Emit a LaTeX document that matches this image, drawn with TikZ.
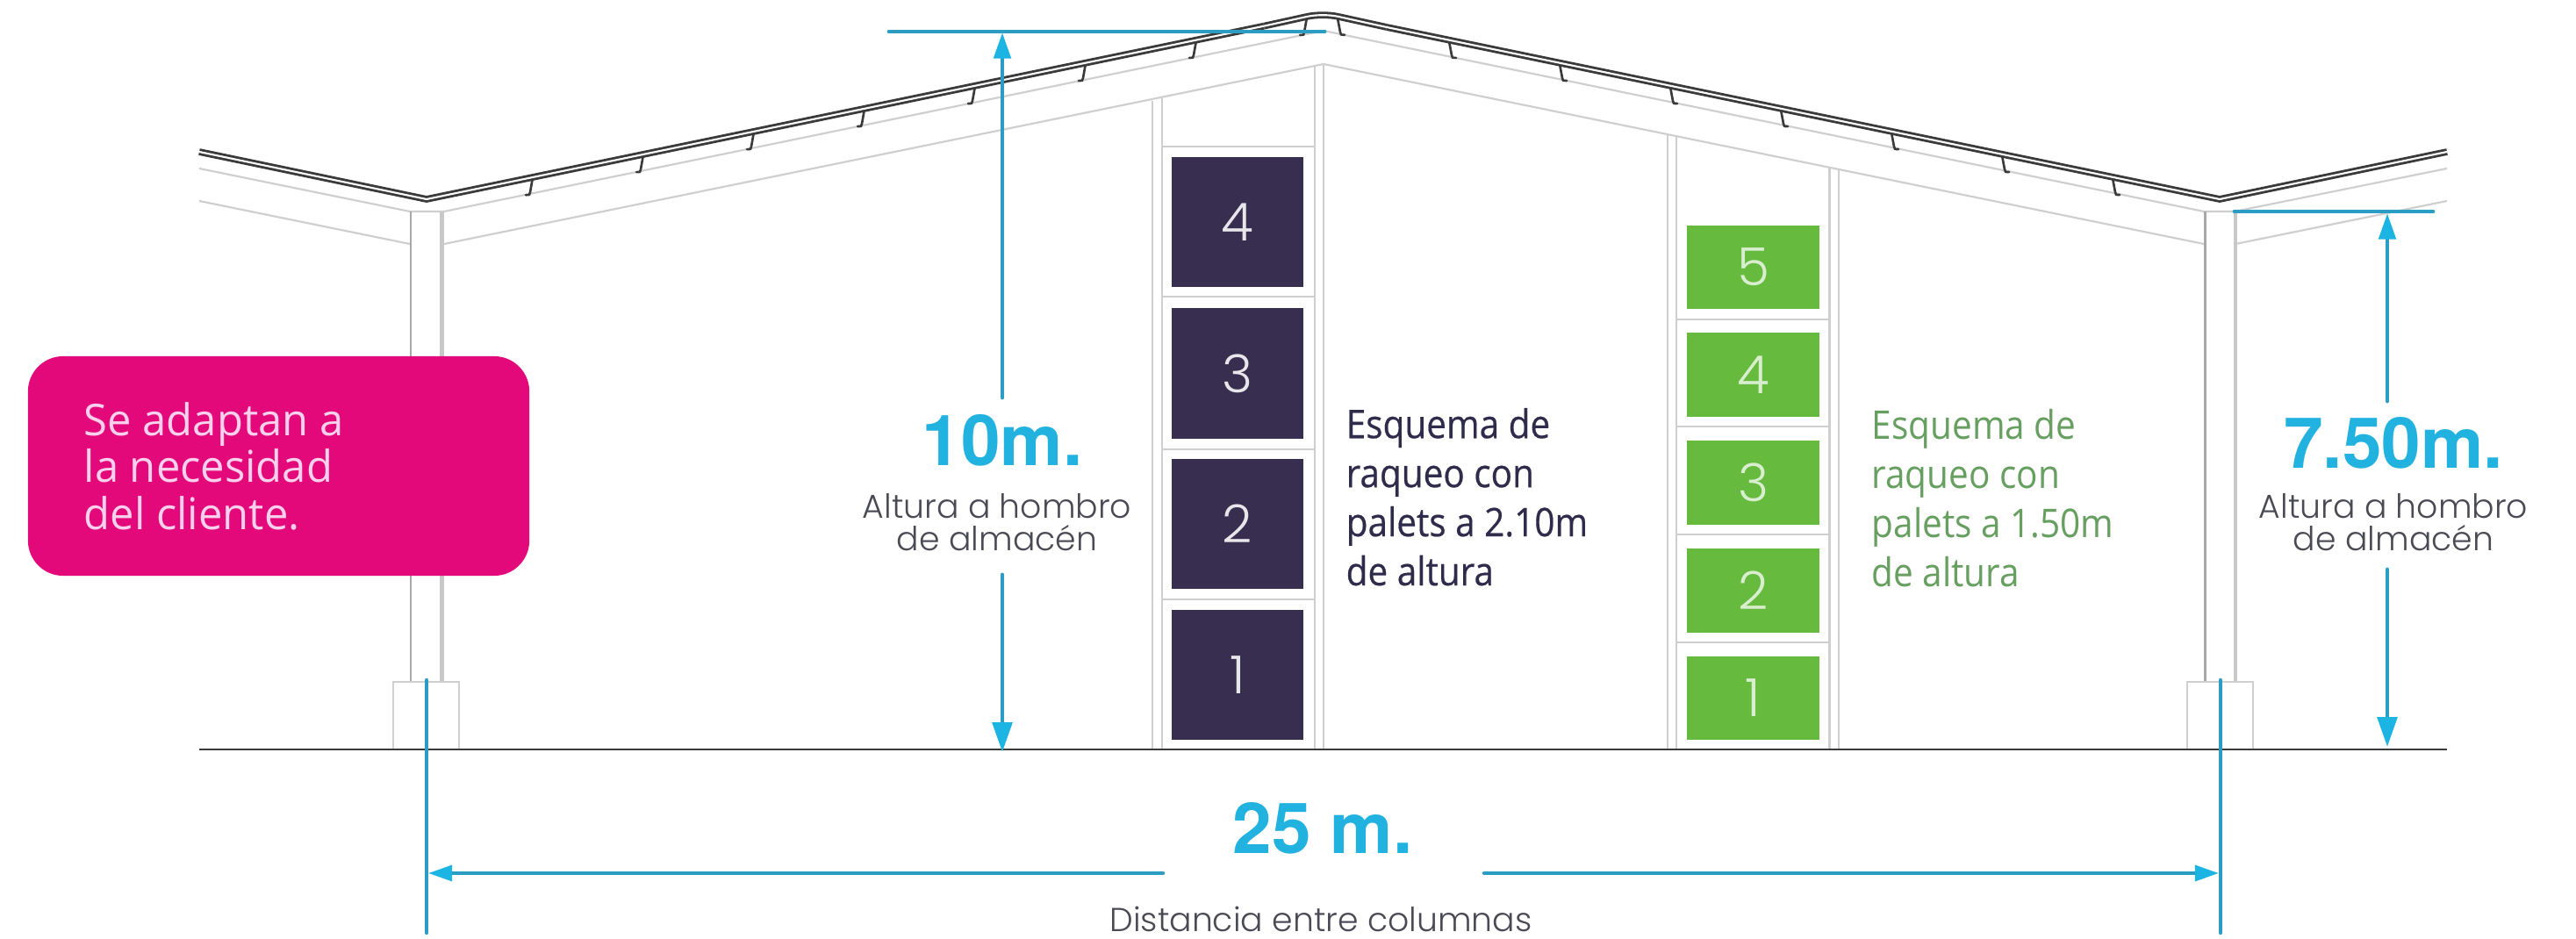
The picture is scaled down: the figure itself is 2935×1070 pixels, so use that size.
\documentclass[tikz,border=0pt]{standalone}
\usepackage{fontspec}
\usetikzlibrary{arrows.meta}
\setmainfont{Open Sans}
\newfontfamily\fmy[FakeStretch=0.90,FakeBold=0.4]{Open Sans}
\newfontfamily\fgr[FakeStretch=0.90]{Open Sans}
\newfontfamily\fnote[FakeStretch=0.98]{Open Sans}
\newfontfamily\fgeo{Poppins Light}
\newfontfamily\fbig{TeX Gyre Heros}
\definecolor{graya}{HTML}{CFCFCF}
\definecolor{colL}{HTML}{A8A8A8}
\definecolor{colR}{HTML}{C8C8C8}
\definecolor{roofc}{HTML}{3A3A3A}
\definecolor{linec}{HTML}{2B9DC4}
\definecolor{headc}{HTML}{1CB4E3}
\definecolor{bignum}{HTML}{22B2DF}
\definecolor{darkp}{HTML}{382E50}
\definecolor{greenp}{HTML}{66BB3E}
\definecolor{pinkb}{HTML}{E3097A}
\definecolor{pinkt}{HTML}{FBD0EC}
\definecolor{greent}{HTML}{669F60}
\definecolor{darkt}{HTML}{2F2B4B}
\definecolor{greyt}{HTML}{4A4A55}
\tikzset{
  x=0.01cm,y=-0.01cm,
  wall/.style={draw=graya,line width=0.62pt},
  wallthin/.style={draw=graya,line width=0.55pt},
  colleft/.style={draw=colL,line width=0.85pt},
  colright/.style={draw=colR,line width=1.4pt},
  roof/.style={draw=roofc,line width=0.8pt,double=white,double distance=0.6pt},
  hook/.style={draw=roofc,line width=0.75pt,line cap=round},
  dim/.style={draw=linec,line width=1.4pt,line cap=round},
  dimthin/.style={draw=linec,line width=1.25pt,line cap=round},
  arrowS/.style={dim,-{Triangle[length=8.4pt,width=5.4pt,color=headc]}},
  arrowL/.style={dim,-{Triangle[length=9.6pt,width=6.3pt,color=headc]}},
  arrowH/.style={dimthin,-{Triangle[length=7.7pt,width=5pt,color=headc]}},
  palletD/.style={fill=darkp,draw=none,text=white!88!darkp,minimum width=150.5*0.2845pt,minimum height=148*0.2845pt,inner sep=0pt,font=\fgeo\fontsize{17}{20}\selectfont},
  palletG/.style={fill=greenp,draw=none,text=white!75!greenp,minimum width=150.5*0.2845pt,minimum height=95.5*0.2845pt,inner sep=0pt,font=\fgeo\fontsize{17}{20}\selectfont},
  bigtxt/.style={font=\fbig\bfseries\fontsize{22.8}{26}\selectfont,text=bignum,inner sep=0pt},
  subtxt/.style={font=\fgeo\fontsize{10.75}{10.24}\selectfont,text=greyt,inner sep=0pt,align=center},
  schema/.style={font=\fontsize{12.8}{15.9}\selectfont,inner sep=0pt,align=left},
}
\begin{document}
\begin{tikzpicture}
\path[use as bounding box,fill=white] (0,0) rectangle (2935,1070);
% wall / truss lines
\draw[wall] (227,192) -- (467,241) -- (506,241) -- (1508,35) -- (2511,241) -- (2546,241) -- (2788,192);
\draw[wall] (227,229) -- (467,278);
\draw[wall] (506,278) -- (1508,73) -- (2511,278);
\draw[wall] (2547,278) -- (2788,229);
% columns
\draw[colleft] (468,241) -- (468,777);
\draw[colright] (503.5,241) -- (503.5,777);
\draw[colleft] (2512,241) -- (2512,777);
\draw[colright] (2547,241) -- (2547,777);
% footings
\draw[wallthin] (448,854) -- (448,777) -- (523,777) -- (523,854);
\draw[wallthin] (2492,854) -- (2492,777) -- (2567,777) -- (2567,854);
% purlin hooks
\foreach \hx in {606,732,858,984,1110,1236,1362,1488}{
  \pgfmathsetmacro{\hy}{227-0.2067*(\hx-486)}
  \draw[hook] (\hx+6,\hy-1) -- (\hx+1,\hy) -- (\hx-2,\hy+17) .. controls (\hx-2.5,\hy+20) .. (\hx-7,\hy+20);
}
\foreach \hx in {1525,1652,1778,1904,2030,2156,2282,2408}{
  \pgfmathsetmacro{\hy}{16+0.2065*(\hx-1507)}
  \draw[hook] (\hx-6,\hy) -- (\hx-1,\hy+1) -- (\hx+2,\hy+17) .. controls (\hx+2.5,\hy+20) .. (\hx+7,\hy+20);
}
% roof
\draw[roof,line join=miter] (227,173) -- (486,227) -- (1440,29.7);
\draw[roof,line join=round,rounded corners=5pt] (1440,29.7) -- (1507,15) -- (1580,31);
\draw[roof,line join=miter] (1580,31) -- (2529,227) -- (2788,173);
% racks
\draw[wall] (1313,115) -- (1313,854);
\draw[wall] (1324,112) -- (1324,854);
\draw[wall] (1498,76) -- (1498,854);
\draw[wall] (1508,73) -- (1508,854);
\foreach \sy in {167,338,512,683} \draw[wallthin] (1324,\sy) -- (1498,\sy);
\draw[wall] (1900,153) -- (1900,854);
\draw[wall] (1910,155) -- (1910,854);
\draw[wall] (2084.5,191) -- (2084.5,854);
\draw[wall] (2095,193) -- (2095,854);
\foreach \sy in {364,486,609,732} \draw[wallthin] (1910,\sy) -- (2084.5,\sy);
% pallets
\node[palletD] (d4) at (1410,253) {4};
\node[palletD] (d3) at (1410,425.5) {3};
\node[palletD] (d2) at (1410,597) {2};
\node[palletD] (d1) at (1410,769) {1};
\node[palletG] (g5) at (1997.5,304.5) {5};
\node[palletG] (g4) at (1997.5,427) {4};
\node[palletG] (g3) at (1997.5,550) {3};
\node[palletG] (g2) at (1997.5,673) {2};
\node[palletG] (g1) at (1997.5,795.5) {1};
% ground
\draw[draw=roofc,line width=0.85pt] (227,854) -- (2788,854);
% note
\node[fill=pinkb,draw=none,rounded corners=11.4pt,minimum width=571*0.2845pt,minimum height=250*0.2845pt,inner sep=0pt] (note) at (317.5,531) {};
\node[anchor=base west,inner sep=0pt,align=left,text=pinkt,font=\fnote\fontsize{14.2}{15.2}\selectfont] (notetext) at (95,603) {Se adaptan a\\la necesidad\\del cliente.};
% schema texts
\node[schema,anchor=base west,text=darkt] (sdark) at (1533,667) {\fmy Esquema de\\\fmy raqueo con\\\fmy palets a 2.10m\\\fmy de altura};
\node[schema,anchor=base west,text=greent] (sgreen) at (2132,668) {\fgr Esquema de\\\fgr raqueo con\\\fgr palets a 1.50m\\\fgr de altura};
% big labels
\node[bigtxt,anchor=base] (h10) at (1142,531) {10m.};
\node[subtxt,anchor=base] (h10s) at (1136,627) {Altura a hombro\\de almacén};
\node[bigtxt,anchor=base] (h75) at (2727,533) {7.50m.};
\node[subtxt,anchor=base] (h75s) at (2727,627) {Altura a hombro\\de almacén};
\node[bigtxt,anchor=base] (w25) at (1507,972) {25 m.};
\node[subtxt,anchor=base] (w25s) at (1505,1061) {Distancia entre columnas};
% dimension coordinates
\coordinate (topL) at (1013,36);
\coordinate (topR) at (1509,36);
\coordinate (topT) at (1142,37);
\coordinate (a10a) at (1142,453);
\coordinate (a10b) at (1142,655);
\coordinate (a10c) at (1142,857);
\coordinate (eaveL) at (2546,241);
\coordinate (eaveR) at (2772,241);
\coordinate (eaveT) at (2720,243);
\coordinate (a75a) at (2720,457);
\coordinate (a75b) at (2720,649);
\coordinate (a75c) at (2720,851);
\coordinate (cLt) at (486,775);
\coordinate (cLb) at (486,1063);
\coordinate (cRt) at (2530,775);
\coordinate (cRb) at (2530,1063);
\coordinate (wL) at (488,995);
\coordinate (wLe) at (1325,995);
\coordinate (wRs) at (1691,995);
\coordinate (wR) at (2528,995);
% dimensions
\draw[dim] (topL) -- (topR);
\draw[arrowS] (a10a) -- (topT);
\draw[arrowL] (a10b) -- (a10c);
\draw[dim] (eaveL) -- (eaveR);
\draw[arrowS] (a75a) -- (eaveT);
\draw[arrowL] (a75b) -- (a75c);
\draw[dimthin] (cLt) -- (cLb);
\draw[dimthin] (cRt) -- (cRb);
\draw[arrowH] (wLe) -- (wL);
\draw[arrowH] (wRs) -- (wR);
\end{tikzpicture}
\end{document}
